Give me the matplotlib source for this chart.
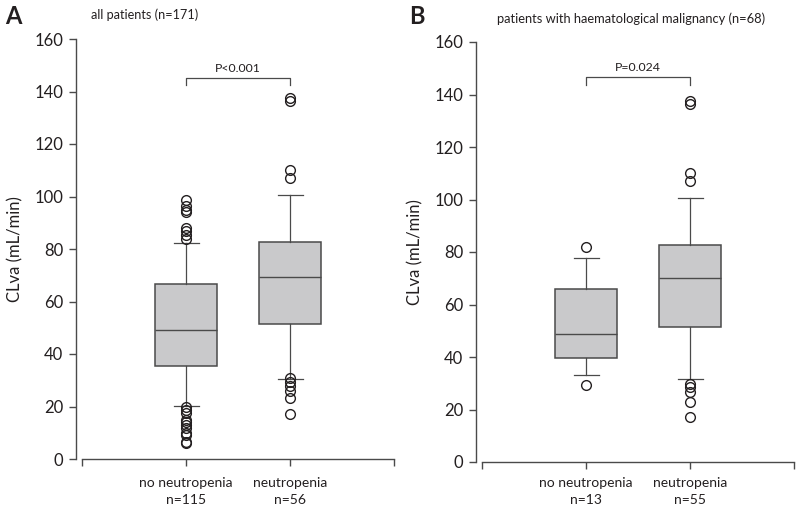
import matplotlib
matplotlib.use("Agg")
import matplotlib.pyplot as plt

plt.rcParams['font.family'] = ['Lato', 'DejaVu Sans']

# box statistics (CLva, mL/min)
labels_a = ['no neutropenia\nn=115', 'neutropenia\nn=56']
labels_b = ['no neutropenia\nn=13', 'neutropenia\nn=55']

q1_a = [35.3, 51.4]
med_a = [49.0, 69.2]
q3_a = [66.5, 82.5]
lo_a = [20.2, 30.6]
hi_a = [82.2, 100.6]
out_a = [
    [98.5, 96.5, 95.0, 94.2, 88.0, 87.0, 85.5, 83.8,
     19.8, 18.8, 17.5, 15.0, 14.0, 13.0, 12.0, 10.0, 9.0, 6.5, 6.0],
    [137.4, 136.2, 110.0, 107.0, 31.0, 29.5, 28.0, 26.0, 23.3, 17.1],
]

q1_b = [39.7, 51.6]
med_b = [48.6, 70.0]
q3_b = [65.8, 82.5]
lo_b = [33.0, 31.5]
hi_b = [77.8, 100.7]
out_b = [
    [82.0, 29.5],
    [137.5, 136.2, 110.0, 107.0, 29.6, 28.4, 26.8, 23.0, 17.0],
]

titles = ['all patients (n=171)', 'patients with haematological malignancy (n=68)']
pvals = ['P<0.001', 'P=0.024']

dark = '#4a4a4a'
txt = '#231f20'

fig = plt.figure(figsize=(7.99, 5.09), dpi=100)
ax_a = fig.add_axes([76 / 799, 50 / 509, 318 / 799, 420 / 509])
ax_b = fig.add_axes([476 / 799, 47 / 509, 318 / 799, 420 / 509])


def draw(ax, q1, med, q3, lo, hi, out, labels, pval, brk, xpad):
    stats = []
    for i in range(2):
        stats.append(dict(q1=q1[i], med=med[i], q3=q3[i], whislo=lo[i],
                          whishi=hi[i], fliers=out[i]))
    ax.bxp(stats, positions=[1, 2], widths=0.6, patch_artist=True,
           capwidths=0.24,
           boxprops=dict(facecolor='#c9c9cb', edgecolor=dark, linewidth=1.1),
           medianprops=dict(color=dark, linewidth=1.0),
           whiskerprops=dict(color=dark, linewidth=0.9),
           capprops=dict(color=dark, linewidth=0.9),
           flierprops=dict(marker='o', markerfacecolor='none',
                           markeredgecolor=txt, markersize=7,
                           markeredgewidth=1.0))
    ax.set_xlim(-0.06, 3.0)
    ax.set_ylim(0, 160)
    ax.spines['top'].set_visible(False)
    ax.spines['right'].set_visible(False)
    ax.spines['bottom'].set_bounds(0, 3)
    ax.spines['left'].set_bounds(0, 160)
    for s in ('left', 'bottom'):
        ax.spines[s].set_color(dark)
        ax.spines[s].set_linewidth(1.0)
    ax.tick_params(axis='both', direction='out', length=5, width=1.0,
                   color=dark, labelcolor=txt)
    ax.tick_params(axis='y', labelsize=12, pad=4)
    ax.tick_params(axis='x', labelsize=10, pad=xpad)
    ax.set_xticks([0, 1, 2, 3])
    ax.set_xticklabels(['', labels[0], labels[1], ''], linespacing=1.5)
    ax.set_yticks(range(0, 161, 20))
    ax.set_ylabel('CLva (mL/min)', fontsize=12, color=txt, labelpad=8)
    ax.patch.set_visible(False)

    # significance bracket
    ax.plot([1, 1, 2, 2], [brk[0], brk[1], brk[1], brk[0]],
            color=dark, linewidth=0.9, clip_on=False)
    ax.text(1.5, brk[1] + 1.5, pval, ha='center', va='bottom',
            fontsize=8.8, color=txt)
    return ax


draw(ax_a, q1_a, med_a, q3_a, lo_a, hi_a, out_a, labels_a,
     pvals[0], (142.5, 145.2), 8)
draw(ax_b, q1_b, med_b, q3_b, lo_b, hi_b, out_b, labels_b,
     pvals[1], (143.6, 146.7), 6)

fig.text(5 / 799, 1 - 17 / 509, 'A', fontsize=17, fontweight='bold',
         color=txt, va='center', ha='left')
fig.text(409 / 799, 1 - 17 / 509, 'B', fontsize=17, fontweight='bold',
         color=txt, va='center', ha='left')
fig.text(91 / 799, 1 - 15 / 509, titles[0], fontsize=9.1, color=txt,
         va='center', ha='left')
fig.text(497 / 799, 1 - 19 / 509, titles[1], fontsize=9.3, color=txt,
         va='center', ha='left')

fig.savefig('out.png', dpi=100, facecolor='white')
